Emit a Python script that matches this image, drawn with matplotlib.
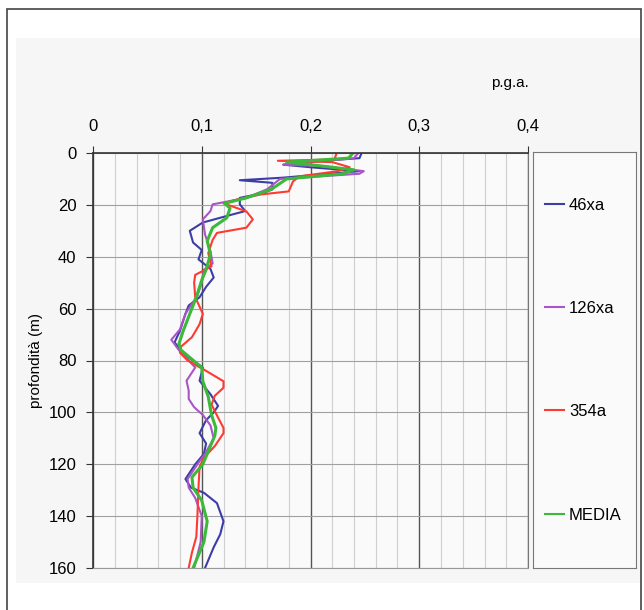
import numpy as np
import matplotlib.pyplot as plt
from matplotlib.patches import Rectangle
from matplotlib.ticker import MultipleLocator

plt.rcParams['font.family'] = ['Liberation Sans', 'DejaVu Sans']

# profondità (m) / p.g.a. per ogni serie
depth_46xa = [0, 2, 3, 4.5, 5.5, 7, 9.5, 10.5, 11.5, 14, 15.6, 17.3, 19.8, 22.4, 23.6,
              26.8, 30, 34.5, 37.4, 41, 44.7, 48, 51.6, 55.6, 58.8, 62, 68.5, 73,
              75.6, 77.5, 82.7, 87.8, 93, 97.5, 100, 103, 108, 112, 116, 120, 125.7,
              129, 131, 135, 142, 147, 152, 160]
pga_46xa = [0.247, 0.245, 0.21, 0.175, 0.20, 0.245, 0.175, 0.135, 0.165, 0.165, 0.155,
            0.135, 0.135, 0.140, 0.129, 0.101, 0.089, 0.092, 0.100, 0.097, 0.108,
            0.111, 0.104, 0.098, 0.088, 0.085, 0.080, 0.075, 0.080, 0.083, 0.101,
            0.098, 0.108, 0.115, 0.111, 0.104, 0.098, 0.104, 0.102, 0.094, 0.085,
            0.090, 0.102, 0.114, 0.120, 0.117, 0.111, 0.103]

depth_126xa = [0, 2, 4.5, 5, 7, 8, 10, 14, 17.3, 19.8, 22.4, 25.6, 31.4, 37.8, 42.6, 45,
               50, 55, 62, 68, 72, 76, 82.7, 87.8, 91.6, 94.8, 98, 101, 105, 110, 116,
               120, 125.7, 129, 133, 140, 150, 160]
pga_126xa = [0.244, 0.240, 0.175, 0.21, 0.249, 0.245, 0.172, 0.160, 0.141, 0.110, 0.108,
             0.101, 0.103, 0.108, 0.110, 0.102, 0.100, 0.096, 0.085, 0.080, 0.072,
             0.079, 0.094, 0.086, 0.088, 0.088, 0.093, 0.101, 0.108, 0.111, 0.103,
             0.096, 0.087, 0.088, 0.094, 0.100, 0.099, 0.093]

depth_354a = [0, 2.5, 3, 3.5, 5.5, 7, 9, 10.9, 14.8, 16, 18, 19.4, 22.5, 25.6, 28.8,
              30.8, 33.5, 38.6, 43.7, 47, 50, 55.6, 62, 66, 71, 75, 77, 80, 84, 88,
              90.5, 93.6, 97, 102, 106, 108, 113, 117.5, 121, 129, 140, 148, 154, 160]
pga_354a = [0.224, 0.222, 0.170, 0.22, 0.236, 0.225, 0.19, 0.184, 0.180, 0.154, 0.132,
            0.120, 0.141, 0.147, 0.141, 0.114, 0.110, 0.106, 0.109, 0.094, 0.093,
            0.094, 0.101, 0.098, 0.091, 0.080, 0.080, 0.087, 0.104, 0.120, 0.120,
            0.112, 0.109, 0.115, 0.120, 0.120, 0.112, 0.102, 0.098, 0.097, 0.096,
            0.095, 0.091, 0.088]

depth_media = [0, 2, 3.5, 5, 6.5, 8, 10, 14, 17.3, 19.4, 21.3, 25, 28.8, 33.9, 39, 45,
               49, 55.6, 62, 68.5, 73.6, 76, 82.7, 88, 94, 101, 106, 109, 116, 120,
               125, 129, 134, 142, 150, 160]
pga_media = [0.239, 0.235, 0.178, 0.21, 0.240, 0.230, 0.178, 0.164, 0.141, 0.121, 0.126,
             0.123, 0.110, 0.105, 0.108, 0.104, 0.100, 0.095, 0.089, 0.083, 0.079,
             0.081, 0.100, 0.101, 0.106, 0.109, 0.113, 0.112, 0.105, 0.101, 0.091,
             0.092, 0.100, 0.105, 0.102, 0.092]

x_ticks = [0, 0.1, 0.2, 0.3, 0.4]
x_labels = ['0', '0,1', '0,2', '0,3', '0,4']
y_ticks = [0, 20, 40, 60, 80, 100, 120, 140, 160]

fig = plt.figure(figsize=(6.44, 6.10), dpi=100)

# cornice esterna e pannello grigio
fig.patches.append(Rectangle((7 / 644, -0.05), 634 / 644, 1.05 - 9 / 610,
                             transform=fig.transFigure, fill=False,
                             edgecolor='#444444', linewidth=1.2, zorder=-2))
fig.patches.append(Rectangle((16 / 644, 1 - 583 / 610), 624 / 644, 545 / 610,
                             transform=fig.transFigure, facecolor='#f6f6f6',
                             edgecolor='none', zorder=-1))

ax = fig.add_axes([93 / 644, 1 - 568 / 610, 435 / 644, 415 / 610])
ax.set_zorder(2)
ax.set_facecolor('#fafafa')

ax.plot(pga_46xa, depth_46xa, color='#3d3da8', lw=1.5, label='46xa')
ax.plot(pga_126xa, depth_126xa, color='#a855c8', lw=1.5, label='126xa')
ax.plot(pga_354a, depth_354a, color='#ff3a30', lw=1.5, label='354a')
ax.plot(pga_media, depth_media, color='#3cb83a', lw=2.2, label='MEDIA')

ax.set_xlim(0, 0.4)
ax.set_ylim(160, 0)
ax.xaxis.tick_top()
ax.set_xticks(x_ticks)
ax.set_xticklabels(x_labels)
ax.set_yticks(y_ticks)
ax.xaxis.set_minor_locator(MultipleLocator(0.02))
ax.tick_params(axis='x', which='major', length=5, pad=8.5, labelsize=12, color='#333333')
ax.tick_params(axis='x', which='minor', length=0)
ax.tick_params(axis='y', length=5, pad=7, labelsize=12, color='#333333')

ax.grid(which='minor', axis='x', color='#cfcfcf', lw=0.8)
ax.grid(which='major', axis='x', color='#555555', lw=1)
ax.grid(which='major', axis='y', color='#a0a0a0', lw=0.8)
ax.set_axisbelow(True)
for side in ['top', 'left']:
    ax.spines[side].set_color('#333333')
    ax.spines[side].set_linewidth(1.2)
ax.spines['right'].set_color('#777777')
ax.spines['bottom'].set_color('#999999')

ax.set_ylabel('profondità (m)', fontsize=11, labelpad=4)
fig.text(510 / 644, 1 - 83 / 610, 'p.g.a.', fontsize=11, ha='center', va='center')

# legenda in un riquadro a destra
lax = fig.add_axes([533 / 644, 1 - 568 / 610, 103 / 644, 416 / 610])
lax.set_zorder(2)
lax.set_xticks([])
lax.set_yticks([])
lax.set_facecolor('#fafafa')
for s in lax.spines.values():
    s.set_color('#777777')
handles, labels = ax.get_legend_handles_labels()
leg = lax.legend(handles, labels, loc='center left', bbox_to_anchor=(-0.03, 0.5),
                 frameon=False, fontsize=12, handlelength=1.15, handletextpad=0.3,
                 labelspacing=5.3)
for h in leg.legend_handles:
    h.set_linewidth(1.5)

fig.savefig('out.png', dpi=100)
